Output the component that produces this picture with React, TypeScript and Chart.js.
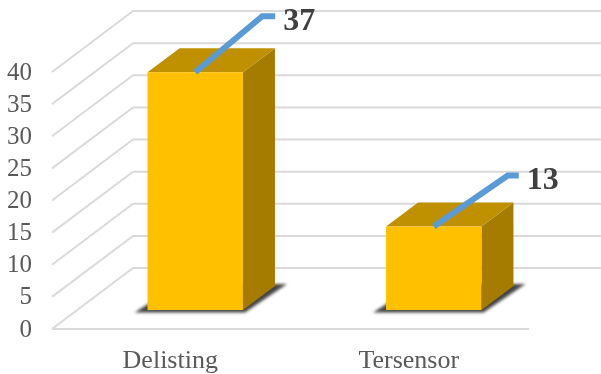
import React, { useEffect, useRef } from "react";
import { Chart, registerables } from "chart.js";

Chart.register(...registerables);

const categories = ["Delisting", "Tersensor"];
const counts = [37, 13];
const yMin = 0;
const yMax = 40;
const yStep = 5;

const FRONT = "#FFC000";
const TOP = "#BF9000";
const SIDE = "#A67C00";
const GRID = "#DADADA";
const LEADER = "#5B9BD5";
const AXIS_TEXT = "#595959";
const LABEL_TEXT = "#404040";

// Depth of the chart box and of each block, in canvas pixels.
const WALL_DX = 81;
const WALL_DY = -61;
const BAR_SHIFT_X = 24;
const BAR_SHIFT_Y = -19;
const BAR_DX = 32;
const BAR_DY = -24;

// Draws the floor, the back wall, the block faces and the block shadows.
const boxPlugin = {
  id: "box3d",
  beforeDatasetsDraw(chart: any) {
    const { ctx, chartArea, scales } = chart;
    const { left, right } = chartArea;

    ctx.save();
    ctx.strokeStyle = GRID;
    ctx.lineWidth = 2;
    scales.y.ticks.forEach((t: any) => {
      const y = scales.y.getPixelForValue(t.value);
      ctx.beginPath();
      ctx.moveTo(left, y);
      ctx.lineTo(left + WALL_DX, y + WALL_DY);
      ctx.lineTo(right + WALL_DX, y + WALL_DY);
      ctx.stroke();
    });
    const floor = scales.y.getPixelForValue(yMin);
    ctx.beginPath();
    ctx.moveTo(left, floor);
    ctx.lineTo(right, floor);
    ctx.stroke();

    chart.getDatasetMeta(0).data.forEach((bar: any) => {
      const x0 = bar.x - bar.width / 2 + BAR_SHIFT_X;
      const x1 = bar.x + bar.width / 2 + BAR_SHIFT_X;
      const yTop = bar.y + BAR_SHIFT_Y;
      const yBase = bar.base + BAR_SHIFT_Y;

      // Soft shadow cast on the floor
      ctx.save();
      ctx.filter = "blur(1.5px)";
      ctx.fillStyle = "#454545";
      ctx.beginPath();
      ctx.moveTo(x0 - 13, yBase + 2.5);
      ctx.lineTo(x1 + 2, yBase + 2.5);
      ctx.lineTo(x1 + BAR_DX + 12, yBase + BAR_DY - 2);
      ctx.lineTo(x0 + BAR_DX, yBase + BAR_DY - 2);
      ctx.closePath();
      ctx.fill();
      ctx.restore();

      ctx.fillStyle = SIDE;
      ctx.beginPath();
      ctx.moveTo(x1, yTop);
      ctx.lineTo(x1 + BAR_DX, yTop + BAR_DY);
      ctx.lineTo(x1 + BAR_DX, yBase + BAR_DY);
      ctx.lineTo(x1, yBase);
      ctx.closePath();
      ctx.fill();

      ctx.fillStyle = TOP;
      ctx.beginPath();
      ctx.moveTo(x0, yTop);
      ctx.lineTo(x0 + BAR_DX, yTop + BAR_DY);
      ctx.lineTo(x1 + BAR_DX, yTop + BAR_DY);
      ctx.lineTo(x1, yTop);
      ctx.closePath();
      ctx.fill();
    });
    ctx.restore();

    // The front faces sit part-way into the box
    ctx.save();
    ctx.translate(BAR_SHIFT_X, BAR_SHIFT_Y);
  },
  afterDatasetsDraw(chart: any) {
    const { ctx } = chart;
    ctx.restore();

    // Leader lines and value labels
    ctx.save();
    chart.getDatasetMeta(0).data.forEach((bar: any, i: number) => {
      const startX = bar.x + BAR_SHIFT_X;
      const startY = bar.y + BAR_SHIFT_Y;
      const rise = i === 0 ? 56 : 51;
      const run = i === 0 ? 67 : 74;
      const tail = i === 0 ? 13 : 11;
      ctx.strokeStyle = LEADER;
      ctx.lineWidth = 6;
      ctx.lineJoin = "miter";
      ctx.beginPath();
      ctx.moveTo(startX, startY);
      ctx.lineTo(startX + run, startY - rise);
      ctx.lineTo(startX + run + tail, startY - rise);
      ctx.stroke();

      ctx.fillStyle = LABEL_TEXT;
      ctx.font = "bold 32px 'Liberation Serif'";
      ctx.textAlign = "left";
      ctx.textBaseline = "middle";
      ctx.fillText(String(counts[i]), startX + run + tail + 8, startY - rise + 5);
    });
    ctx.restore();
  },
};

export default function App() {
  const canvasRef = useRef<HTMLCanvasElement | null>(null);

  useEffect(() => {
    const chart = new Chart(canvasRef.current as HTMLCanvasElement, {
      type: "bar",
      data: {
        labels: categories,
        datasets: [
          {
            data: counts,
            backgroundColor: FRONT,
            borderWidth: 0,
            barPercentage: 0.4,
            categoryPercentage: 1,
          },
        ],
      },
      options: {
        animation: false,
        responsive: false,
        layout: { padding: { top: 72, right: 72, left: 0, bottom: 0 } },
        plugins: { legend: { display: false }, tooltip: { enabled: false } },
        scales: {
          x: {
            grid: { display: false },
            border: { display: false },
            ticks: {
              color: AXIS_TEXT,
              font: { family: "'Liberation Serif'", size: 26 },
              padding: 9,
              labelOffset: -1,
              maxRotation: 0,
            },
            afterFit(scale: any) {
              scale.height = 45;
            },
          },
          y: {
            min: yMin,
            max: yMax,
            grid: { display: false },
            border: { display: false },
            ticks: {
              stepSize: yStep,
              autoSkip: false,
              color: AXIS_TEXT,
              font: { family: "'Liberation Serif'", size: 25 },
              padding: 12,
              labelOffset: 1,
            },
            afterFit(scale: any) {
              scale.width = 52;
            },
          },
        },
      },
      plugins: [boxPlugin],
    } as any);
    return () => chart.destroy();
  }, []);

  return (
    <canvas
      ref={canvasRef}
      width={601}
      height={374}
      style={{ position: "absolute", left: 0, top: 0, width: 601, height: 374 }}
    />
  );
}
